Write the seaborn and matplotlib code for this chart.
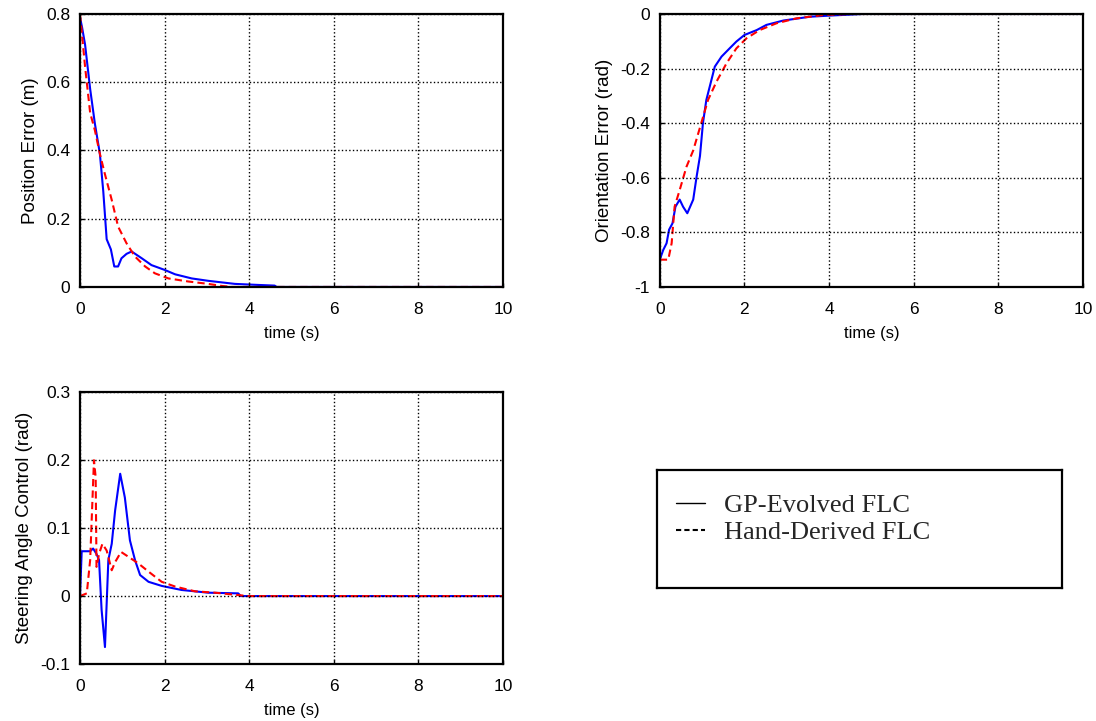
import matplotlib
matplotlib.use("Agg")
import matplotlib.pyplot as plt
import seaborn as sns
import numpy as np
from matplotlib.lines import Line2D

# ---------------- data ----------------
# Position error (m)
pos_gp_t = [0, 0.05, 0.12, 0.24, 0.35, 0.47, 0.55, 0.63, 0.73, 0.81, 0.9, 0.98, 1.1, 1.22, 1.46, 1.69, 2.0, 2.25, 2.64, 3.03, 3.66, 4.2, 4.6, 4.65, 10]
pos_gp_v = [0.79, 0.76, 0.71, 0.58, 0.48, 0.39, 0.28, 0.14, 0.11, 0.06, 0.06, 0.084, 0.097, 0.104, 0.084, 0.064, 0.05, 0.037, 0.025, 0.018, 0.009, 0.006, 0.004, 0.0, 0.0]
pos_hd_t = [0, 0.12, 0.24, 0.35, 0.47, 0.59, 0.75, 0.9, 1.1, 1.3, 1.54, 1.77, 2.09, 2.56, 3.03, 3.35, 3.6, 10]
pos_hd_v = [0.8, 0.645, 0.51, 0.46, 0.39, 0.33, 0.255, 0.177, 0.128, 0.089, 0.06, 0.04, 0.025, 0.016, 0.009, 0.003, 0.0, 0.0]

# Orientation error (rad)
ori_gp_t = [0, 0.08, 0.16, 0.22, 0.3, 0.37, 0.47, 0.55, 0.65, 0.79, 0.87, 0.95, 1.02, 1.1, 1.22, 1.3, 1.46, 1.65, 1.81, 2.0, 2.29, 2.52, 2.92, 3.55, 4.0, 4.8, 10]
ori_gp_v = [-0.90, -0.865, -0.84, -0.79, -0.767, -0.706, -0.68, -0.706, -0.73, -0.68, -0.596, -0.52, -0.40, -0.315, -0.242, -0.193, -0.156, -0.126, -0.101, -0.077, -0.059, -0.04, -0.024, -0.01, -0.006, 0.0, 0.0]
ori_hd_t = [0, 0.2, 0.28, 0.35, 0.47, 0.63, 0.79, 0.98, 1.14, 1.34, 1.58, 1.81, 2.05, 2.36, 2.76, 3.23, 3.86, 4.5, 10]
ori_hd_v = [-0.90, -0.90, -0.84, -0.706, -0.645, -0.56, -0.50, -0.40, -0.315, -0.248, -0.18, -0.126, -0.089, -0.059, -0.034, -0.016, -0.004, 0.0, 0.0]

# Steering angle control (rad)
str_gp_t = [0, 0.04, 0.24, 0.31, 0.39, 0.45, 0.51, 0.59, 0.67, 0.75, 0.83, 0.95, 1.06, 1.18, 1.3, 1.42, 1.62, 1.93, 2.4, 3.03, 3.74, 3.8, 10]
str_gp_v = [0.0, 0.066, 0.066, 0.07, 0.062, 0.053, -0.02, -0.075, 0.053, 0.077, 0.126, 0.18, 0.145, 0.082, 0.053, 0.031, 0.021, 0.015, 0.009, 0.005, 0.004, 0.0, 0.0]
str_hd_t = [0, 0.16, 0.24, 0.33, 0.37, 0.39, 0.45, 0.53, 0.63, 0.75, 0.83, 0.97, 1.14, 1.38, 1.62, 1.93, 2.25, 2.72, 3.19, 3.66, 3.98, 10]
str_hd_v = [0.0, 0.004, 0.053, 0.2, 0.175, 0.043, 0.062, 0.077, 0.067, 0.038, 0.05, 0.065, 0.058, 0.048, 0.036, 0.021, 0.014, 0.007, 0.005, 0.002, 0.0, 0.0]

x_ticks = [0, 2, 4, 6, 8, 10]
pos_ticks = [0, 0.2, 0.4, 0.6, 0.8]
ori_ticks = [-1, -0.8, -0.6, -0.4, -0.2, 0]
str_ticks = [-0.1, 0, 0.1, 0.2, 0.3]
legend_labels = ["GP-Evolved FLC", "Hand-Derived FLC"]

# ---------------- style ----------------
sns.set_theme(style="white")
plt.rcParams['font.family'] = ['Liberation Sans', 'DejaVu Sans']

fig = plt.figure(figsize=(10.96, 7.21), dpi=100)

def fmt(v):
    return "%g" % v

def style_ax(ax, yticks, ylim, ylabel):
    ax.set_xlim(0, 10)
    ax.set_ylim(*ylim)
    ax.set_xticks(x_ticks)
    ax.set_xticklabels([fmt(v) for v in x_ticks])
    ax.set_yticks(yticks)
    ax.set_yticklabels([fmt(v) for v in yticks])
    ax.grid(True, color='black', linestyle=':', linewidth=1.0)
    ax.set_axisbelow(False)
    for s in ax.spines.values():
        s.set_color('black')
        s.set_linewidth(1.6)
        s.set_visible(True)
    ax.tick_params(direction='in', length=3, width=1, colors='black', labelsize=12.5,
                   left=True, bottom=True, top=False, right=False)
    ax.tick_params(axis='x', pad=11)
    ax.tick_params(axis='y', pad=7)
    ax.set_xlabel("time (s)", fontsize=12, labelpad=6, color='black')
    ax.set_ylabel(ylabel, fontsize=13.5, labelpad=5, color='black')
    ax.set_facecolor('white')

def draw(ax, t1, v1, t2, v2):
    sns.lineplot(x=t1, y=v1, ax=ax, color='#0000FF', linewidth=1.5, sort=False, estimator=None)
    sns.lineplot(x=t2, y=v2, ax=ax, color='#FF0000', linewidth=1.5, linestyle='--', sort=False,
                 estimator=None)
    ax.lines[-1].set_dashes([3.5, 2])

ax1 = fig.add_axes([0.073, 0.602, 0.386, 0.3786])
draw(ax1, pos_gp_t, pos_gp_v, pos_hd_t, pos_hd_v)
style_ax(ax1, pos_ticks, (0, 0.8), "Position Error (m)")

ax2 = fig.add_axes([0.602, 0.602, 0.386, 0.3786])
draw(ax2, ori_gp_t, ori_gp_v, ori_hd_t, ori_hd_v)
style_ax(ax2, ori_ticks, (-1, 0), "Orientation Error (rad)")

ax3 = fig.add_axes([0.073, 0.079, 0.386, 0.377])
draw(ax3, str_gp_t, str_gp_v, str_hd_t, str_hd_v)
style_ax(ax3, str_ticks, (-0.1, 0.3), "Steering Angle Control (rad)")

# legend box
axl = fig.add_axes([0.5995, 0.1845, 0.3695, 0.1637])
axl.set_xticks([])
axl.set_yticks([])
axl.set_facecolor('white')
for s in axl.spines.values():
    s.set_color('black')
    s.set_linewidth(1.6)
    s.set_visible(True)
handles = [Line2D([], [], color='black', linewidth=1.0, linestyle='-'),
           Line2D([], [], color='black', linewidth=1.5, linestyle=(0, (2.5, 1.5)))]
axl.legend(handles, legend_labels, loc='upper left', bbox_to_anchor=(0.047, 0.80),
           frameon=False, borderaxespad=0, borderpad=0, handlelength=1.1, handletextpad=0.72,
           labelspacing=0.15, prop={'family': 'Liberation Serif', 'size': 19})

fig.savefig("out.png", dpi=100, facecolor='white')
